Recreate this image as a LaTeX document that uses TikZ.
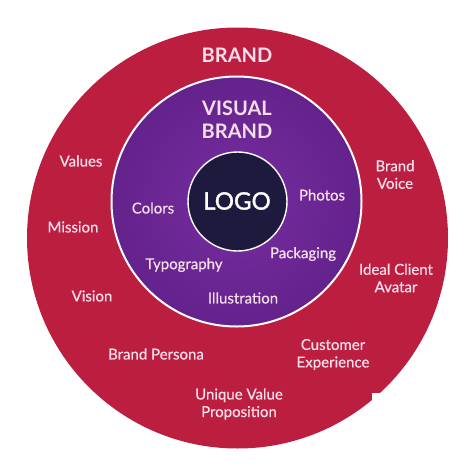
\documentclass[tikz,border=0pt]{standalone}
\usepackage{fontspec}
\setmainfont{Lato}
\definecolor{brandred}{RGB}{188,30,64}
\definecolor{visualpurple}{RGB}{118,46,160}
\definecolor{visualdark}{RGB}{100,34,140}
\definecolor{logoblue}{RGB}{30,26,62}
\definecolor{labelpink}{RGB}{246,222,234}

\begin{document}
\begin{tikzpicture}[x=1pt, y=-1pt, align=center,
	ring/.style = {circle, inner sep=0pt, draw=white},
	head/.style = {text=labelpink, font=\bfseries\fontsize{20}{23}\selectfont},
	item/.style = {text=labelpink, font=\fontsize{15}{17.5}\selectfont\addfontfeature{FakeBold=0.6}}]
	\useasboundingbox (0,0) rectangle (474,474);
	\node[ring, draw=none, fill=brandred, minimum size=421pt] (brand) at (237.5,238) {};
	\node[ring, line width=2pt, inner color=visualpurple, outer color=visualdark, minimum size=250pt] (visual) at (236.5,201.5) {};
	\node[ring, line width=1.4pt, fill=logoblue, minimum size=99pt] (logo) at (237.5,201.5) {};
	\fill[white] (372,393) rectangle (474,474);
	% headings
	\node[head] (brandhead) at (237,55) {BRAND};
	\node[head] (visualhead) at (237,119.5) {VISUAL\\BRAND};
	\node[head, text=white, font=\fontsize{24}{28}\selectfont\addfontfeature{FakeBold=1.5}] (logohead) at (237,201) {LOGO};
	% visual brand
	\node[item] (colors) at (153,208) {Colors};
	\node[item] (photos) at (322,195) {Photos};
	\node[item] (packaging) at (303,254) {Packaging};
	\node[item] (typography) at (184,265) {Typography};
	\node[item] (illustration) at (243,298) {Illustration};
	% brand
	\node[item] (values) at (81,161) {Values};
	\node[item] (mission) at (73,227) {Mission};
	\node[item] (vision) at (92,296) {Vision};
	\node[item] (persona) at (156,354) {Brand Persona};
	\node[item] (uvp) at (239,404) {Unique Value\\Proposition};
	\node[item] (experience) at (333,354.5) {Customer\\Experience};
	\node[item] (avatar) at (396,278) {Ideal Client\\Avatar};
	\node[item] (voice) at (395,174.5) {Brand\\Voice};
\end{tikzpicture}
\end{document}
